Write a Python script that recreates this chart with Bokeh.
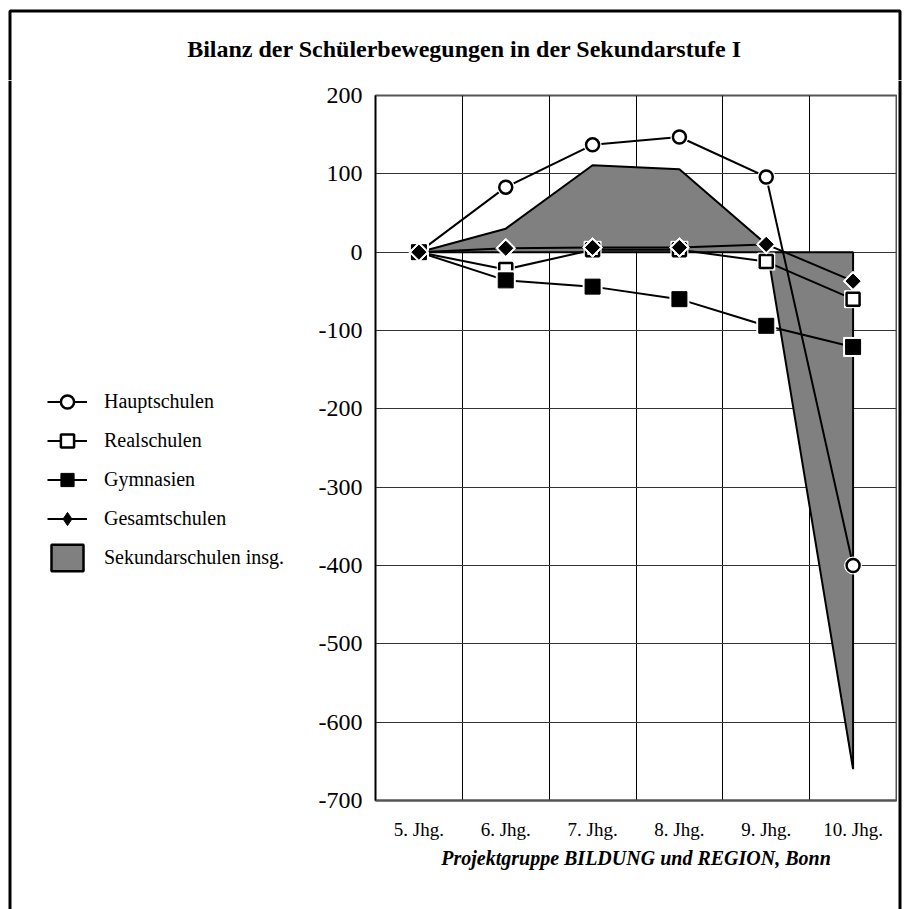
from bokeh.plotting import figure
from bokeh.models import (Range1d, FixedTicker, Legend, LegendItem, Title,
                          Label, Span, BoxAnnotation, NumeralTickFormatter)
from bokeh.layouts import row, column
from bokeh.embed import file_html
from bokeh.resources import INLINE
import math

# ---- data -------------------------------------------------------------
categories = ["5. Jhg.", "6. Jhg.", "7. Jhg.", "8. Jhg.", "9. Jhg.", "10. Jhg."]
hauptschulen = [0, 83, 137, 147, 96, -400]
realschulen = [0, -22, 3, 3, -12, -60]
gymnasien = [0, -36, -44, -60, -94, -121]
gesamtschulen = [0, 5, 6, 6, 10, -37]
sekundarschulen_insg = [0, 30, 111, 106, 10, -660]
y_ticks = list(range(-700, 201, 100))

series_names = ["Hauptschulen", "Realschulen", "Gymnasien", "Gesamtschulen",
                "Sekundarschulen insg."]
title_text = "Bilanz der Schülerbewegungen in der Sekundarstufe I"
source_text = "Projektgruppe BILDUNG und REGION, Bonn"

FONT = "Liberation Serif"
NAN = float("nan")

# marker styles: (marker, size, fill, line colour, line width, angle)
STY = {
    "Hauptschulen": ("circle", 13, "white", "black", 2.5, 0.0),
    "Realschulen": ("square", 13, "white", "black", 2.5, 0.0),
    "Gymnasien": ("square", 15, "black", "black", 1, 0.0),
    "Gesamtschulen": ("square", 10, "black", "black", 1, math.pi / 4),
}


def bare(width, height, xr, yr):
    f = figure(width=width, height=height, x_range=xr, y_range=yr,
               x_axis_type=None, y_axis_type=None, output_backend="svg",
               toolbar_location=None, min_border=0, frame_align=False)
    f.outline_line_color = None
    f.background_fill_color = "white"
    f.border_fill_color = "white"
    return f


# ---- top strip: title + top frame -------------------------------------
top = bare(909, 80, Range1d(0, 909), Range1d(80, 0))
top.add_layout(BoxAnnotation(left=9.5, right=899.5, top=10.5, bottom=200,
                             fill_alpha=0, line_color="black", line_alpha=1,
                             line_width=3))
top.add_layout(Label(x=464, y=48, text=title_text, text_font=FONT,
                     text_font_style="bold", text_font_size="24px",
                     text_align="center", text_baseline="middle",
                     text_color="black"))

# ---- main chart -------------------------------------------------------
xs = [i + 0.5 for i in range(len(categories))]
p = figure(width=587, height=829,
           x_range=Range1d(0, len(categories)), y_range=Range1d(-700, 200),
           output_backend="svg", toolbar_location=None, frame_align=False,
           min_border_left=65, min_border_right=1,
           min_border_top=15, min_border_bottom=109)
p.background_fill_color = "white"
p.border_fill_color = "white"
p.outline_line_color = "#555555"
p.outline_line_width = 2

area_x = xs + [xs[-1], xs[0]]
area_y = sekundarschulen_insg + [0, 0]
p.patch(area_x, area_y, fill_color="#808080", line_color="black",
        line_width=2)

for name, vals in zip(series_names[:4],
                      [hauptschulen, realschulen, gymnasien, gesamtschulen]):
    mk, sz, fc, lc, lw, ang = STY[name]
    p.line(xs, vals, line_color="black", line_width=2)
    p.scatter(xs, vals, marker=mk, size=sz + 4, angle=ang,
              fill_color="white", line_color="white", line_width=1)
    p.scatter(xs, vals, marker=mk, size=sz, angle=ang,
              fill_color=fc, line_color=lc, line_width=lw)

p.xaxis.ticker = FixedTicker(ticks=xs)
p.xaxis.major_label_overrides = {x: c for x, c in zip(xs, categories)}
p.xaxis.major_tick_out = 0
p.xaxis.major_tick_in = 0
p.xaxis.minor_tick_out = 0
p.xaxis.minor_tick_in = 0
p.xaxis.axis_line_color = "#555555"
p.xaxis.axis_line_width = 2
p.xaxis.major_label_standoff = 18
p.xaxis.major_label_text_font = FONT
p.xaxis.major_label_text_font_size = "19px"
p.xaxis.major_label_text_color = "black"

p.yaxis.ticker = FixedTicker(ticks=y_ticks)
p.yaxis.formatter = NumeralTickFormatter(format="0")
p.yaxis.major_tick_out = 0
p.yaxis.major_tick_in = 0
p.yaxis.minor_tick_out = 0
p.yaxis.minor_tick_in = 0
p.yaxis.axis_line_color = "black"
p.yaxis.axis_line_width = 1.5
p.yaxis.major_label_standoff = 13
p.yaxis.major_label_text_font = FONT
p.yaxis.major_label_text_font_size = "24px"
p.yaxis.major_label_text_color = "black"

p.xgrid.ticker = FixedTicker(ticks=list(range(0, len(categories) + 1)))
p.xgrid.grid_line_color = "black"
p.xgrid.grid_line_width = 1
p.ygrid.ticker = FixedTicker(ticks=y_ticks)
p.ygrid.grid_line_color = "#333333"
p.ygrid.grid_line_width = 1

p.add_layout(Title(text=source_text, align="center", standoff=4,
                   text_font=FONT, text_font_style="bold italic",
                   text_font_size="20px", text_color="black"), "below")

# ---- left strip: legend + left frame ----------------------------------
left = bare(310, 829, Range1d(0, 310), Range1d(829, 0))
left.add_layout(Span(location=9.5, dimension="height", line_color="black",
                     line_width=3))
items = []
for name in series_names[:4]:
    mk, sz, fc, lc, lw, ang = STY[name]
    if name == "Gesamtschulen":
        mk = "diamond"
    ln = left.line([NAN], [NAN], line_color="black", line_width=2)
    sc = left.scatter([NAN], [NAN], marker=mk, fill_color=fc, line_color=lc,
                      line_width=lw)
    items.append(LegendItem(label=name, renderers=[ln, sc]))
pa = left.patch([NAN], [NAN], fill_color="#808080", line_color="black",
                line_width=2.5)
items.append(LegendItem(label=series_names[4], renderers=[pa]))

legend = Legend(items=items, location=(47, 335))
legend.padding = 0
legend.margin = 0
legend.border_line_color = None
legend.background_fill_alpha = 0
legend.glyph_width = 40
legend.glyph_height = 33
legend.spacing = 6
legend.label_standoff = 17
legend.label_text_font = FONT
legend.label_text_font_size = "20px"
legend.label_text_color = "black"
left.add_layout(legend, "center")

# ---- right strip: right frame -----------------------------------------
right = bare(12, 829, Range1d(0, 12), Range1d(829, 0))
right.add_layout(Span(location=2.5, dimension="height", line_color="black",
                      line_width=3))

root = column(top, row(left, p, right, spacing=0), spacing=0)
open("out.html", "w").write(file_html(root, INLINE))
